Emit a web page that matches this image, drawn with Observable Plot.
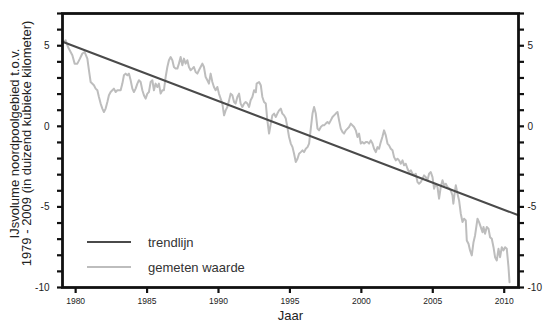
<!DOCTYPE html>
<html>
<head>
<meta charset="utf-8">
<script src="https://cdn.jsdelivr.net/npm/d3@7"></script>
<script src="https://cdn.jsdelivr.net/npm/@observablehq/plot@0.6"></script>
<style>
  html, body { margin: 0; padding: 0; background: #fff; }
  #wrap { position: relative; width: 544px; height: 325px; font-family: "Liberation Sans", Arial, sans-serif; }
  .leg-row { position: absolute; left: 87px; height: 16px; display: flex; align-items: center; font-size: 13px; color: #333; }
  .leg-sw { width: 44px; height: 2px; margin-right: 17px; }
</style>
</head>
<body>
<div id="wrap"></div>
<script>
// Measured ice-volume anomaly (thousand km³) vs year
const measYears = [1979.07,1979.30,1979.42,1979.51,1979.77,1979.93,1980.12,1980.30,1980.47,1980.63,1980.82,1980.93,1981.05,1981.28,1981.40,1981.52,1981.63,1981.75,1981.87,1981.98,1982.10,1982.22,1982.33,1982.45,1982.57,1982.68,1982.80,1982.92,1983.15,1983.27,1983.38,1983.50,1983.62,1983.73,1983.85,1983.97,1984.08,1984.20,1984.32,1984.43,1984.55,1984.67,1984.78,1984.90,1985.02,1985.13,1985.25,1985.37,1985.48,1985.60,1985.72,1985.83,1985.95,1986.07,1986.18,1986.30,1986.42,1986.53,1986.65,1986.77,1986.88,1987.00,1987.12,1987.23,1987.35,1987.47,1987.58,1987.70,1987.82,1987.93,1988.05,1988.17,1988.28,1988.40,1988.52,1988.63,1988.75,1988.87,1988.98,1989.10,1989.22,1989.33,1989.45,1989.57,1989.68,1989.80,1989.92,1990.03,1990.15,1990.27,1990.39,1990.50,1990.62,1990.74,1990.85,1990.97,1991.09,1991.20,1991.32,1991.44,1991.55,1991.67,1991.79,1991.90,1992.02,1992.14,1992.25,1992.37,1992.49,1992.61,1992.67,1992.84,1992.96,1993.07,1993.19,1993.31,1993.42,1993.54,1993.66,1993.77,1993.89,1994.01,1994.12,1994.24,1994.36,1994.47,1994.59,1994.71,1994.82,1994.94,1995.06,1995.18,1995.29,1995.41,1995.53,1995.64,1995.76,1995.88,1995.99,1996.11,1996.23,1996.34,1996.46,1996.58,1996.69,1996.81,1996.93,1997.04,1997.16,1997.28,1997.39,1997.51,1997.63,1997.74,1997.86,1997.98,1998.09,1998.21,1998.33,1998.44,1998.56,1998.68,1998.79,1998.91,1999.03,1999.14,1999.26,1999.49,1999.61,1999.73,1999.84,1999.96,2000.08,2000.19,2000.31,2000.43,2000.54,2000.66,2000.78,2000.89,2001.01,2001.13,2001.24,2001.36,2001.47,2001.59,2001.71,2001.83,2001.94,2002.06,2002.18,2002.29,2002.41,2002.53,2002.64,2002.76,2002.88,2002.99,2003.11,2003.23,2003.34,2003.46,2003.58,2003.69,2003.81,2003.93,2004.04,2004.16,2004.28,2004.39,2004.51,2004.63,2004.74,2004.86,2004.98,2005.09,2005.21,2005.33,2005.44,2005.56,2005.68,2005.79,2005.91,2006.03,2006.14,2006.26,2006.38,2006.44,2006.54,2006.61,2006.73,2006.84,2006.96,2007.08,2007.19,2007.31,2007.38,2007.50,2007.61,2007.73,2007.85,2007.96,2008.13,2008.24,2008.36,2008.48,2008.55,2008.66,2008.78,2008.90,2009.01,2009.13,2009.25,2009.36,2009.48,2009.60,2009.71,2009.83,2009.95,2010.06,2010.18,2010.30,2010.37];
const measValues = [5.14,5.34,5.03,4.84,4.41,3.89,3.89,4.20,4.52,4.61,4.20,3.48,2.75,2.55,2.34,2.24,1.82,1.41,1.10,0.89,1.10,1.51,1.93,2.13,2.24,2.34,2.13,2.24,2.24,2.65,3.17,3.27,3.17,3.27,2.86,2.34,2.13,2.34,2.65,2.86,2.75,2.24,1.93,1.72,2.03,2.13,2.75,2.86,2.24,2.65,2.44,2.65,2.03,2.24,2.24,3.06,3.68,4.10,4.30,4.10,3.68,3.58,3.58,3.89,4.30,3.79,4.20,3.89,4.10,3.68,3.48,3.58,3.68,3.37,3.27,3.48,3.68,3.89,3.68,3.06,2.86,2.65,3.27,2.75,2.44,2.24,2.44,2.03,1.72,1.41,0.68,0.99,1.20,1.61,2.03,1.93,1.51,1.41,1.82,2.03,1.41,1.20,1.41,1.51,1.41,1.20,1.62,1.82,2.24,2.11,2.65,2.75,2.55,1.82,1.51,1.41,0.37,-0.45,0.17,0.68,0.79,0.58,0.79,0.99,1.10,0.79,0.68,0.48,-0.04,-0.66,-1.07,-1.29,-1.70,-2.22,-2.01,-1.70,-1.60,-1.49,-1.60,-1.39,-1.29,-1.07,-0.14,0.79,1.20,0.79,-0.14,-0.25,-0.04,0.06,0.06,0.17,0.27,0.17,0.37,0.58,0.68,0.79,0.89,0.37,-0.14,-0.35,-0.45,-0.25,-0.14,-0.04,0.17,-0.04,-0.25,-0.66,-0.45,-1.07,-0.98,-1.07,-0.98,-0.98,-1.07,-0.87,-1.07,-1.39,-1.60,-1.29,-1.39,-0.98,-0.66,-0.25,-0.56,-1.07,-1.18,-1.39,-1.49,-1.91,-2.11,-2.01,-2.11,-2.32,-2.11,-2.42,-2.32,-2.63,-2.84,-2.73,-2.94,-3.04,-2.94,-3.46,-3.56,-3.46,-3.25,-3.04,-3.15,-3.35,-2.94,-2.84,-3.15,-3.87,-3.56,-3.77,-4.49,-3.75,-3.35,-3.66,-3.56,-3.77,-3.85,-3.98,-4.29,-4.80,-4.08,-3.66,-4.18,-4.60,-5.42,-5.94,-5.73,-5.84,-7.08,-7.29,-7.70,-8.01,-7.19,-6.77,-5.73,-5.94,-6.25,-6.57,-6.25,-6.66,-6.25,-6.35,-6.88,-6.98,-7.50,-8.12,-8.32,-7.60,-8.12,-7.50,-7.70,-7.50,-7.60,-8.74,-9.67];

// Linear trend line (end points)
const trendYears = [1979.08, 2011.0];
const trendValues = [5.25, -5.52];

// Axis ticks
const xTicks = [1980, 1985, 1990, 1995, 2000, 2005, 2010];
const yTicks = [-10,-9,-8,-7,-6,-5,-4,-3,-2,-1,0,1,2,3,4,5,6,7];
const yLabelTicks = [-10, -5, 0, 5];

// Texts
const xTitle = "Jaar";
const yTitle = "IJsvolume noordpoolgebied t.o.v.\n1979 - 2009 (in duizend kubieke kilometer)";
const legendItems = [
  {label: "trendlijn", color: "#4a4a4a"},
  {label: "gemeten waarde", color: "#bdbdbd"}
];

const measured = measYears.map((x, i) => ({x, y: measValues[i]}));
const trend = trendYears.map((x, i) => ({x, y: trendValues[i]}));

const yFmt = d => yLabelTicks.includes(d) ? String(d) : "";

const chart = Plot.plot({
  width: 544,
  height: 325,
  marginLeft: 62,
  marginRight: 26,
  marginTop: 13,
  marginBottom: 38,
  x: {domain: [1979.08, 2011.0]},
  y: {domain: [-10, 7]},
  style: {fontFamily: "'Liberation Sans', Arial, sans-serif", color: "#222", background: "#fff", overflow: "visible"},
  marks: [
    Plot.line(measured, {x: "x", y: "y", stroke: "#bdbdbd", strokeWidth: 2}),
    Plot.line(trend, {x: "x", y: "y", stroke: "#4a4a4a", strokeWidth: 2}),
    Plot.axisY(yTicks, {anchor: "left", tickSize: 5, tickPadding: 8, tickFormat: yFmt, strokeWidth: 2.2, stroke: "#111", fontSize: 10, label: null}),
    Plot.axisY(yTicks, {anchor: "right", tickSize: 5, tickPadding: 4, tickFormat: yFmt, strokeWidth: 2.2, stroke: "#111", fontSize: 10, label: null}),
    Plot.axisX(xTicks, {anchor: "bottom", tickSize: 6, tickPadding: 4, tickFormat: d => String(d), strokeWidth: 2.2, stroke: "#111", fontSize: 8.5, label: null}),
    Plot.frame({stroke: "#111", strokeWidth: 2.8}),
    Plot.text([xTitle], {frameAnchor: "bottom", dy: 32, fontSize: 13, fill: "#222"}),
    Plot.text([yTitle], {frameAnchor: "left", textAnchor: "middle", rotate: -90, dx: -41.5, dy: -7, fontSize: 13, lineHeight: 0.97, fill: "#222"})
  ]
});

const wrap = document.getElementById("wrap");
wrap.appendChild(chart);

legendItems.forEach((item, i) => {
  const row = document.createElement("div");
  row.className = "leg-row";
  row.style.top = (234 + i * 25) + "px";
  const sw = document.createElement("span");
  sw.className = "leg-sw";
  sw.style.background = item.color;
  const lb = document.createElement("span");
  lb.textContent = item.label;
  row.appendChild(sw);
  row.appendChild(lb);
  wrap.appendChild(row);
});
</script>
</body>
</html>
